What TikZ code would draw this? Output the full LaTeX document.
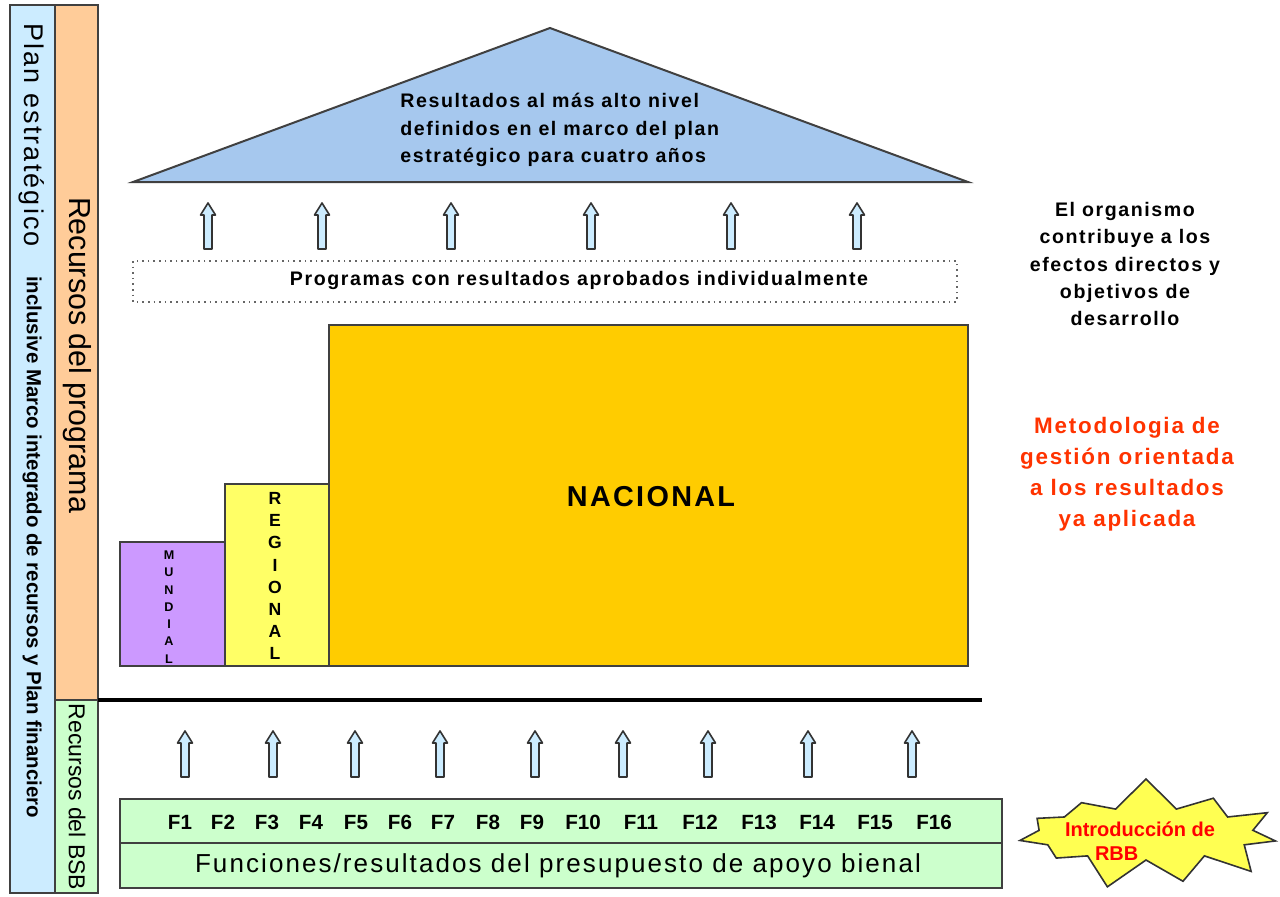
\documentclass[tikz,border=0pt]{standalone}
\usepackage{fontspec}
\setmainfont{Liberation Sans}
\newfontfamily\widefont[LetterSpace=8]{Liberation Sans}
\usepackage{tikz}
\usetikzlibrary{shapes.symbols,calc}
\definecolor{planblue}{RGB}{204,236,255}
\definecolor{progorange}{RGB}{255,204,153}
\definecolor{bsbgreen}{RGB}{204,255,204}
\definecolor{roofblue}{RGB}{166,200,238}
\definecolor{arrowblue}{RGB}{204,236,255}
\definecolor{mundialviolet}{RGB}{204,153,255}
\definecolor{regionalyellow}{RGB}{255,255,102}
\definecolor{nacionalgold}{RGB}{255,204,0}
\definecolor{metodred}{RGB}{255,51,0}
\tikzset{
  box/.style={draw=black!75, line width=1pt},
  blockarrow/.pic={\draw[fill=arrowblue, draw=black!80, line width=0.8pt, line join=round]
    (-4,0) -- (-4,-34) -- (-7.5,-34) -- (0,-46) -- (7.5,-34) -- (4,-34) -- (4,0) -- cycle;},
}

\begin{document}
\begin{tikzpicture}[x=0.5pt,y=-0.5pt]
\useasboundingbox (0,0) rectangle (1280,896);
% ==========================================
% side bars
\draw [box, fill=planblue] (10,5) rectangle (55,893);
\draw [box, fill=progorange] (55,5) rectangle (98,700);
\draw [box, fill=bsbgreen] (55,700) rectangle (98,893);
\node[rotate=-90, font=\widefont\fontsize{13.5}{16}\selectfont] (plan) at (32,135) {Plan estratégico};
\node[rotate=-90, font=\bfseries\fontsize{10.2}{12}\selectfont] (marco) at (32,547) {inclusive Marco integrado de recursos y Plan financiero};
\node[rotate=-90, font=\fontsize{15.2}{16}\selectfont] (programa) at (77,355) {Recursos del programa};
\node[rotate=-90, font=\fontsize{11.5}{14}\selectfont] (bsb) at (77,797) {Recursos del BSB};
%
\draw [black, line width=2pt] (98,700) -- (982,700);
% ==========================================
% roof
\draw [box, fill=roofblue, line join=miter] (133,182) -- (550,28) -- (968,182) -- cycle;
\node[anchor=west, align=left, inner sep=0pt, font=\widefont\bfseries\fontsize{9.8}{13.7}\selectfont] (roof) at (400,130)
  {Resultados al más alto nivel\\definidos en el marco del plan\\estratégico para cuatro años};
%
\foreach \x in {208,322,451,591,731,857}
  \pic at (\x,249) {blockarrow};%Arrow.
%
\draw [dotted, black!60, line width=0.8pt] (133,261) rectangle (957,302);
\node[font=\widefont\bfseries\fontsize{9.8}{12}\selectfont] (programas) at (579,280) {Programas con resultados aprobados individualmente};
% ==========================================
% programme levels
\draw [box, fill=mundialviolet] (120,542) rectangle (225,666);
\draw [box, fill=regionalyellow] (225,484) rectangle (329,666);
\draw [box, fill=nacionalgold] (329,325) rectangle (968,666);
\node[align=center, font=\bfseries\fontsize{6.3}{8.65}\selectfont] (mundial) at (169,607) {M\\U\\N\\D\\I\\A\\L};
\node[align=center, font=\bfseries\fontsize{8.8}{11.05}\selectfont] (regional) at (275,576) {R\\E\\G\\I\\O\\N\\A\\L};
\node[font=\widefont\bfseries\fontsize{14.4}{16}\selectfont] (nacional) at (651,497) {NACIONAL};
% ==========================================
% right hand notes
\node[align=center, font=\widefont\bfseries\fontsize{9.8}{13.7}\selectfont] (organismo) at (1125,264)
  {El organismo\\contribuye a los\\efectos directos y\\objetivos de\\desarrollo};
\node[align=center, text=metodred, font=\widefont\bfseries\fontsize{11.2}{15.5}\selectfont] (metodologia) at (1127,474)
  {Metodologia de\\gestión orientada\\a los resultados\\ya aplicada};
% ==========================================
% biennial support budget
\foreach \x in {185,273,355,440,535,623,708,808,912}
  \pic at (\x,777) {blockarrow};%Arrow.
%
\draw [box, fill=bsbgreen] (120,799) rectangle (1002,888);
\draw [box] (120,843) -- (1002,843);
\foreach \x/\f in {180/1,223/2,267/3,311/4,356/5,400/6,443/7,488/8,532/9,583/10,641/11,700/12,759/13,817/14,875/15,934/16}
  \node[font=\bfseries\fontsize{10.3}{12}\selectfont] (f\f) at (\x,822) {F\f};
\node[font=\widefont\fontsize{13}{14}\selectfont] (funciones) at (558,866) {Funciones/resultados del presupuesto de apoyo bienal};
%
\node[starburst, starburst points=11, starburst point height=16pt, random starburst=7,
  draw=black!80, fill=regionalyellow!80!yellow, line width=0.8pt,
  minimum width=140pt, minimum height=58pt] (rbb) at (1146,834) {};
\node[align=left, inner sep=0pt, text=red, font=\bfseries\fontsize{10}{12}\selectfont] (rbbtext) at (1140,841)
  {Introducción de\\\hspace{15pt}RBB};
% =============================================
\end{tikzpicture}
\end{document}
